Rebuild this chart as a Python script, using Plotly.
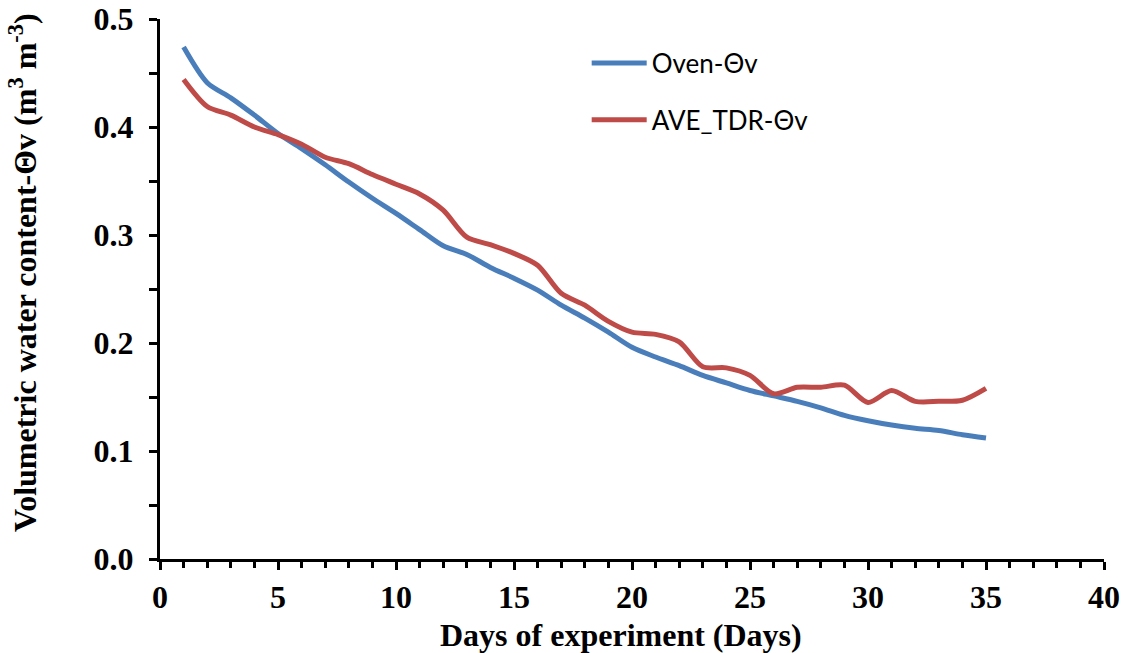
import plotly.graph_objects as go

days = list(range(1, 36))
oven = [0.474, 0.441, 0.427, 0.411, 0.394, 0.380, 0.365, 0.349, 0.334, 0.320,
        0.305, 0.290, 0.282, 0.270, 0.260, 0.249, 0.235, 0.223, 0.210, 0.196,
        0.187, 0.179, 0.170, 0.163, 0.156, 0.151, 0.146, 0.140, 0.133, 0.128,
        0.124, 0.121, 0.119, 0.115, 0.112]
tdr = [0.444, 0.419, 0.411, 0.400, 0.393, 0.384, 0.372, 0.366, 0.356, 0.347,
       0.338, 0.323, 0.298, 0.291, 0.283, 0.272, 0.246, 0.235, 0.220, 0.210,
       0.208, 0.201, 0.178, 0.177, 0.170, 0.153, 0.159, 0.159, 0.161, 0.145,
       0.156, 0.146, 0.146, 0.147, 0.158]

x_ticks = [0, 5, 10, 15, 20, 25, 30, 35, 40]
y_ticks = [0, 0.1, 0.2, 0.3, 0.4, 0.5]

fig = go.Figure()
fig.add_trace(go.Scatter(x=days, y=oven, mode="lines", name="Oven-Θv",
                         line=dict(color="#4A7EBB", width=5, shape="spline", smoothing=0.8),
                         legendgroup="a"))
fig.add_trace(go.Scatter(x=days, y=tdr, mode="lines", name="AVE_TDR-Θv",
                         line=dict(color="#BE4B48", width=5, shape="spline", smoothing=0.8),
                         legendgroup="b"))

tick_font = dict(family="Liberation Serif", size=32, color="black")
title_font = dict(family="Liberation Serif", size=32, color="black")

fig.update_layout(
    width=1124, height=653,
    margin=dict(l=160, r=20, t=19, b=94),
    plot_bgcolor="white", paper_bgcolor="white",
    showlegend=True,
    legend=dict(x=0.452, y=0.962, xanchor="left", yanchor="top",
                font=dict(family="Lato", size=26, color="black"),
                itemwidth=55,
                tracegroupgap=20, bgcolor="rgba(0,0,0,0)"),
    xaxis=dict(range=[0, 40], tickmode="array", tickvals=x_ticks,
               ticktext=["<b>%d</b>" % v for v in x_ticks],
               ticks="outside", ticklen=8, tickwidth=3, tickcolor="black",
               minor=dict(dtick=1, ticks="outside", ticklen=6, tickwidth=3, tickcolor="black"),
               showline=True, linecolor="black", linewidth=3, showgrid=False, zeroline=False,
               tickfont=tick_font, automargin=False),
    yaxis=dict(range=[0, 0.5], tickmode="array", tickvals=y_ticks,
               ticktext=["<b>%.1f</b>" % v for v in y_ticks],
               ticks="outside", ticklen=8, tickwidth=3, tickcolor="black",
               minor=dict(dtick=0.05, ticks="outside", ticklen=8, tickwidth=3, tickcolor="black"),
               showline=True, linecolor="black", linewidth=3, showgrid=False, zeroline=False,
               tickfont=tick_font, automargin=False, ticklabelstandoff=9),
    annotations=[
        dict(text="<b>Days of experiment (Days)</b>", font=title_font, showarrow=False,
             xref="paper", yref="paper", x=(621 - 160) / 944, y=-(635 - 559) / 540,
             xanchor="center", yanchor="middle"),
        dict(text="<b>Volumetric water content-Θv (m<sup>3</sup> m<sup>-3</sup>)</b>",
             font=title_font, showarrow=False, textangle=-90,
             xref="paper", yref="paper", x=-(160 - 23) / 944, y=(559 - 273) / 540,
             xanchor="center", yanchor="middle"),
    ],
)

fig.write_html("out.html")
